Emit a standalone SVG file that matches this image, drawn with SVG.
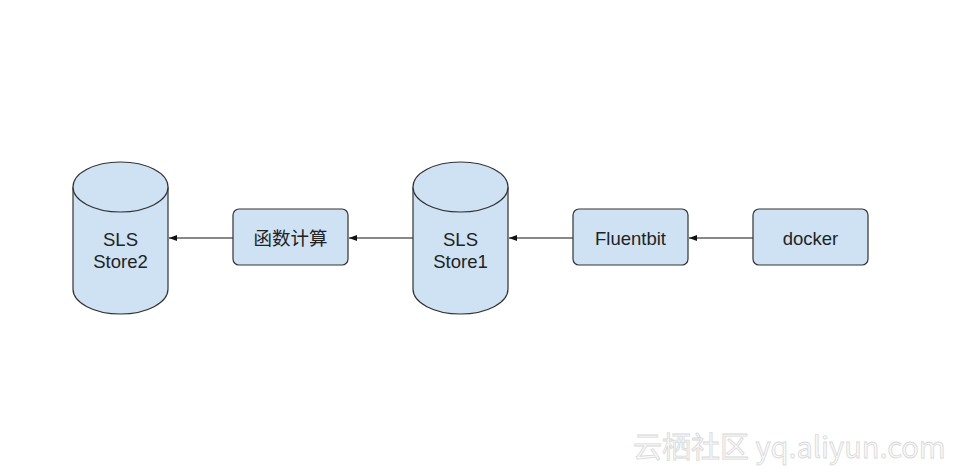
<svg xmlns="http://www.w3.org/2000/svg" width="958" height="475" viewBox="0 0 958 475">
<style>
.shape{fill:#cfe2f3;stroke:#333;stroke-width:1.2}
.t{font-family:"Liberation Sans",Arial,"Noto Sans CJK SC",sans-serif;font-size:18.5px;fill:#222;text-anchor:middle}
.edge{stroke:#111;stroke-width:1;fill:none;marker-end:url(#arr)}
.wm{font-family:"Noto Sans CJK SC","Liberation Sans",sans-serif;font-size:29px;fill:#fafafa;stroke:#d8d8d8;stroke-width:0.8}
</style>
<defs>
<marker id="arr" viewBox="0 0 8 6" refX="8" refY="3" markerWidth="8" markerHeight="6" markerUnits="userSpaceOnUse" orient="auto">
<path d="M0,0 L8,3 L0,6 Z" fill="#111"/>
</marker>
</defs>
<rect width="958" height="475" fill="#fff"/>
<g id="connectors">
<line class="edge" x1="233" y1="238" x2="169" y2="238"/>
<line class="edge" x1="413" y1="238" x2="349" y2="238"/>
<line class="edge" x1="573" y1="238" x2="509" y2="238"/>
<line class="edge" x1="753" y1="238" x2="689" y2="238"/>
</g>
<g id="store2">
<path class="shape" d="M73,187 A47.5,25 0 0 1 168,187 L168,289 A47.5,25 0 0 1 73,289 Z"/>
<path class="shape" d="M73,187 A47.5,25 0 0 0 168,187" fill="none"/>
<text class="t" x="120.5" y="246">SLS</text>
<text class="t" x="120.5" y="268">Store2</text>
</g>
<g id="func">
<rect class="shape" x="233" y="209" width="115" height="56" rx="6"/>
<text class="t" x="290.5" y="245">函数计算</text>
</g>
<g id="store1">
<path class="shape" d="M413,187 A47.5,25 0 0 1 508,187 L508,289 A47.5,25 0 0 1 413,289 Z"/>
<path class="shape" d="M413,187 A47.5,25 0 0 0 508,187" fill="none"/>
<text class="t" x="460.5" y="246">SLS</text>
<text class="t" x="460.5" y="268">Store1</text>
</g>
<g id="fluentbit">
<rect class="shape" x="573" y="209" width="115" height="56" rx="6"/>
<text class="t" x="630.5" y="245">Fluentbit</text>
</g>
<g id="docker">
<rect class="shape" x="753" y="209" width="115" height="56" rx="6"/>
<text class="t" x="810.5" y="245">docker</text>
</g>
<text class="wm" x="633" y="458">云栖社区 yq.aliyun.com</text>
</svg>
